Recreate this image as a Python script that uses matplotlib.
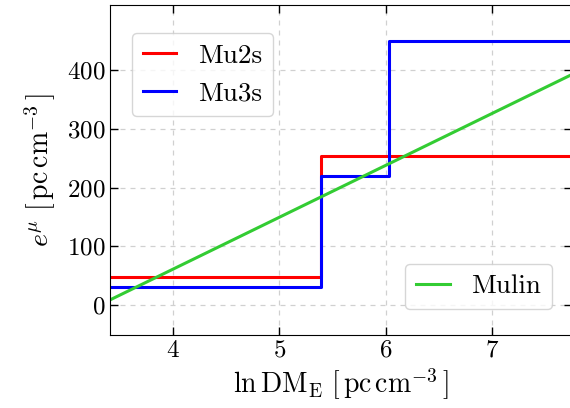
import numpy as np
import matplotlib
matplotlib.use('Agg')
import matplotlib.pyplot as plt

# step edges and levels
x_edges = [3.40, 5.39, 5.39, 6.03, 6.03, 7.76]
mu2s = [47, 47, 254, 254, 254, 254]
mu3s = [30, 30, 220, 220, 449, 449]

# linear model endpoints
lin_x = [3.40, 7.76]
lin_y = [8.5, 393]

xticks = [4, 5, 6, 7]
yticks = [0, 100, 200, 300, 400]

plt.rcParams['font.family'] = 'serif'
plt.rcParams['font.serif'] = ['cmr10', 'DejaVu Serif']
plt.rcParams['mathtext.fontset'] = 'cm'
plt.rcParams['axes.formatter.use_mathtext'] = True
plt.rcParams['font.size'] = 18

fig = plt.figure(figsize=(5.7, 4.08), dpi=100)
ax = fig.add_axes([110 / 570, 73 / 408, 462 / 570, 330 / 408])

l1, = ax.plot(x_edges, mu2s, color='#ff0000', lw=2.2, label='Mu2s')
l2, = ax.plot(x_edges, mu3s, color='#0000ff', lw=2.2, label='Mu3s')
l3, = ax.plot(lin_x, lin_y, color='#33cc33', lw=2.2, label='Mulin')

ax.set_xlim(3.403, 7.757)
ax.set_ylim(-51, 511)
ax.set_xticks(xticks)
ax.set_yticks(yticks)
ax.tick_params(direction='in', top=True, right=True, length=6, width=1, labelsize=18)
ax.grid(True, ls=(0, (4, 4)), color='#d0d0d0', lw=0.9)
ax.set_axisbelow(True)

ax.set_xlabel(r'$\ln\mathrm{DM_E}\ [\,\mathrm{pc\,cm^{-3}}\,]$', fontsize=20, labelpad=3)
ax.set_ylabel(r'$e^{\mu}\ [\,\mathrm{pc\,cm^{-3}}\,]$', fontsize=20, labelpad=6)

leg1 = ax.legend(handles=[l1, l2], loc='upper left', bbox_to_anchor=(0.047, 0.915),
                 borderaxespad=0, handlelength=1.25, fontsize=19.5, labelspacing=0.5,
                 fancybox=True)
ax.add_artist(leg1)
ax.legend(handles=[l3], loc='lower right', bbox_to_anchor=(0.957, 0.078),
          borderaxespad=0, handlelength=1.25, fontsize=19.5, fancybox=True)

fig.savefig('out.png', dpi=100)
